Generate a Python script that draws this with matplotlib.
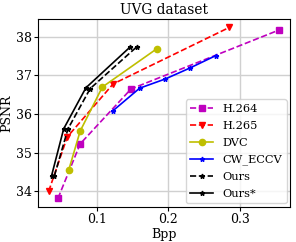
import matplotlib.pyplot as plt

plt.rcParams['font.family'] = 'DejaVu Serif'
plt.rcParams['font.size'] = 9

# bpp / psnr
h264_bpp = [0.046, 0.077, 0.148, 0.354]
h264_psnr = [33.82, 35.23, 36.65, 38.17]
h265_bpp = [0.033, 0.059, 0.123, 0.285]
h265_psnr = [34.00, 35.41, 36.78, 38.24]
dvc_bpp = [0.061, 0.077, 0.108, 0.184]
dvc_psnr = [34.55, 35.56, 36.70, 37.69]
cw_bpp = [0.123, 0.160, 0.196, 0.230, 0.266]
cw_psnr = [36.09, 36.67, 36.91, 37.19, 37.51]
ours_bpp = [0.041, 0.060, 0.091, 0.156]
ours_psnr = [34.40, 35.62, 36.66, 37.74]
ours2_bpp = [0.037, 0.054, 0.085, 0.147]
ours2_psnr = [34.40, 35.62, 36.68, 37.74]

fig = plt.figure(figsize=(2.96, 2.42), dpi=100)
ax = fig.add_axes([0.128, 0.145, 0.852, 0.775])

ax.plot(h264_bpp, h264_psnr, 'm--', marker='s', markersize=4.5, lw=1.2, label='H.264')
ax.plot(h265_bpp, h265_psnr, 'r--', marker='v', markersize=4.5, lw=1.2, label='H.265')
ax.plot(dvc_bpp, dvc_psnr, 'y-', marker='o', markersize=4.5, lw=1.2, label='DVC')
ax.plot(cw_bpp, cw_psnr, 'b-', marker='*', markersize=3.5, lw=1.2, label='CW_ECCV')
ax.plot(ours_bpp, ours_psnr, 'k--', marker='*', markersize=3.5, lw=1.2, label='Ours')
ax.plot(ours2_bpp, ours2_psnr, 'k-', marker='*', markersize=3.5, lw=1.2, label='Ours*')

ax.set_xlim(0.018, 0.37)
ax.set_ylim(33.6, 38.45)
ax.set_xticks([0.1, 0.2, 0.3])
ax.set_yticks([34, 35, 36, 37, 38])
ax.tick_params(length=3, pad=1.5)
ax.grid(True, color='#d0d0d0', lw=1)
ax.set_axisbelow(True)
ax.set_xlabel('Bpp', labelpad=1)
ax.set_ylabel('PSNR', labelpad=2)
ax.set_title('UVG dataset', fontsize=9.9, pad=4)
ax.legend(loc='lower right', fontsize=8.2, labelspacing=0.6, borderaxespad=0.3)

fig.savefig('out.png', dpi=100)
